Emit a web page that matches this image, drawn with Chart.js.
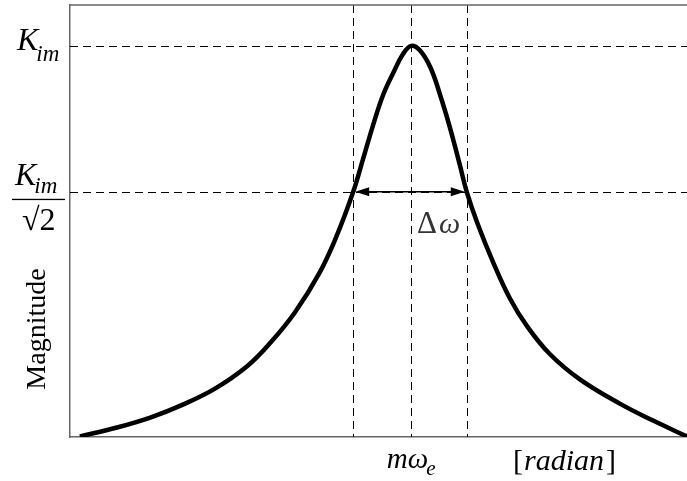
<!DOCTYPE html>
<html>
<head>
<meta charset="utf-8">
<title>Resonance bandwidth</title>
<script src="https://cdn.jsdelivr.net/npm/chart.js@4.4.1/dist/chart.umd.min.js"></script>
<style>
    body {
        margin: 0;
        background: #ffffff;
    }
    #wrap {
        width: 687px;
        height: 481px;
    }
</style>
</head>
<body>
<div id="wrap"><canvas id="magChart" width="687" height="481"></canvas></div>
<script>
// frequency axis (arbitrary units) and normalized magnitude of the response
const freq = [1.6, 7.6, 13.0, 18.3, 23.5, 28.7, 32.4, 36.5, 40.5, 43.3, 45.9, 47.5, 49.1, 50.7, 52.4, 54.0,
              55.3, 56.7, 58.4, 60.0, 61.6, 63.2, 64.3, 66.0, 68.6, 71.3, 74.1, 77.8, 82.7, 89.1, 94.5, 100];
const magnitude = [0.216, 0.234, 0.254, 0.280, 0.312, 0.357, 0.403, 0.466, 0.546, 0.621, 0.707, 0.773, 0.840, 0.900, 0.946, 0.984,
                   1.000, 0.991, 0.957, 0.901, 0.835, 0.760, 0.707, 0.645, 0.565, 0.493, 0.437, 0.381, 0.330, 0.282, 0.248, 0.216];

// peak value and the half-power level
const kIm = 1;
const halfPower = kIm / Math.SQRT2;
const yTicks = [kIm, halfPower];

// resonance and the two half-power frequencies
const resonance = 55.3;
const bandLow = 45.9;
const bandHigh = 64.3;
const xTicks = [bandLow, resonance, bandHigh];

const serif = '"Liberation Serif", "Times New Roman", serif';

function subText(ctx, base, sub, x, y, size, subSize, subDrop) {
    // base letter followed by a lowered subscript, both italic
    ctx.font = 'italic ' + size + 'px ' + serif;
    ctx.fillText(base, x, y);
    const w = ctx.measureText(base).width;
    ctx.font = 'italic ' + subSize + 'px ' + serif;
    ctx.fillText(sub, x + w - 2, y + subDrop);
    return w - 2 + ctx.measureText(sub).width;
}

const guides = {
    id: 'guides',
    beforeDatasetsDraw(chart) {
        const { ctx, chartArea, scales } = chart;
        ctx.save();
        ctx.strokeStyle = '#000';
        ctx.lineWidth = 1;
        ctx.setLineDash([8, 5]);
        yTicks.forEach(v => {
            const y = Math.round(scales.y.getPixelForValue(v)) + 0.5;
            ctx.beginPath();
            ctx.moveTo(chartArea.left, y);
            ctx.lineTo(chartArea.right, y);
            ctx.stroke();
        });
        xTicks.forEach(v => {
            const x = Math.round(scales.x.getPixelForValue(v)) + 0.5;
            ctx.beginPath();
            ctx.moveTo(x, chartArea.top);
            ctx.lineTo(x, chartArea.bottom);
            ctx.stroke();
        });
        ctx.setLineDash([]);

        // top frame line
        ctx.strokeStyle = '#666';
        ctx.lineWidth = 1.5;
        ctx.beginPath();
        ctx.moveTo(chartArea.left, chartArea.top);
        ctx.lineTo(chartArea.right, chartArea.top);
        ctx.stroke();

        // bandwidth arrow between the half-power points
        const yA = scales.y.getPixelForValue(halfPower);
        const x1 = scales.x.getPixelForValue(bandLow) + 2;
        const x2 = scales.x.getPixelForValue(bandHigh) - 2;
        ctx.strokeStyle = '#000';
        ctx.fillStyle = '#000';
        ctx.lineWidth = 1.5;
        ctx.beginPath();
        ctx.moveTo(x1 + 10, yA);
        ctx.lineTo(x2 - 10, yA);
        ctx.stroke();
        ctx.beginPath();
        ctx.moveTo(x1, yA);
        ctx.lineTo(x1 + 14, yA - 4.5);
        ctx.lineTo(x1 + 14, yA + 4.5);
        ctx.closePath();
        ctx.fill();
        ctx.beginPath();
        ctx.moveTo(x2, yA);
        ctx.lineTo(x2 - 14, yA - 4.5);
        ctx.lineTo(x2 - 14, yA + 4.5);
        ctx.closePath();
        ctx.fill();
        ctx.restore();
    },
    afterDraw(chart) {
        const { ctx, scales } = chart;
        ctx.save();
        ctx.fillStyle = '#000';
        ctx.textAlign = 'left';
        ctx.textBaseline = 'alphabetic';

        // K_im at the peak level
        const yK = scales.y.getPixelForValue(kIm);
        subText(ctx, 'K', 'im', 17, yK + 4, 32, 23, 11);

        // K_im / sqrt(2) at the half-power level
        const yH = scales.y.getPixelForValue(halfPower);
        subText(ctx, 'K', 'im', 15, yH - 7, 32, 23, 8);
        ctx.fillRect(12, yH + 7, 53, 1.3);
        ctx.font = '32px ' + serif;
        ctx.fillText('\u221A2', 22, yH + 38);

        // vertical axis title
        ctx.save();
        ctx.translate(45, 329);
        ctx.rotate(-Math.PI / 2);
        ctx.textAlign = 'center';
        ctx.font = '28px ' + serif;
        ctx.fillText('Magnitude', 0, 0);
        ctx.restore();

        // resonance label under its guide
        const xR = scales.x.getPixelForValue(resonance);
        ctx.font = 'italic 29px ' + serif;
        const wm = ctx.measureText('m\u03C9').width;
        ctx.font = 'italic 21px ' + serif;
        const we = ctx.measureText('e').width;
        subText(ctx, 'm\u03C9', 'e', xR - (wm + we - 2) / 2, 468, 29, 21, 7);

        // axis unit
        ctx.font = '30px ' + serif;
        ctx.fillText('[', 513, 470);
        ctx.font = 'italic 30px ' + serif;
        ctx.fillText('radian', 524, 470);
        const wr = ctx.measureText('radian').width;
        ctx.font = '30px ' + serif;
        ctx.fillText(']', 524 + wr + 2, 470);

        // bandwidth label
        ctx.fillStyle = '#333';
        ctx.font = '31px ' + serif;
        ctx.fillText('\u0394', 417, yH + 41);
        ctx.font = 'italic 30px ' + serif;
        ctx.fillText('\u03C9', 439, yH + 41);
        ctx.restore();
    }
};

new Chart(document.getElementById('magChart'), {
    type: 'line',
    data: {
        datasets: [{
            data: freq.map((f, i) => ({ x: f, y: magnitude[i] })),
            borderColor: '#000',
            borderWidth: 4.5,
            pointRadius: 0,
            fill: false,
            tension: 0.4
        }]
    },
    options: {
        responsive: false,
        animation: false,
        events: [],
        layout: {
            padding: { top: 5, right: 0, left: 0, bottom: 0 }
        },
        plugins: {
            legend: { display: false },
            tooltip: { enabled: false }
        },
        scales: {
            x: {
                type: 'linear',
                min: 0,
                max: 100,
                grid: { display: false },
                border: { display: true, color: '#666', width: 1.5 },
                ticks: { display: false },
                afterFit(scale) { scale.height = 44; }
            },
            y: {
                min: 0.215,
                max: 1.082,
                grid: { display: false },
                border: { display: true, color: '#666', width: 1.5 },
                ticks: { display: false },
                afterFit(scale) { scale.width = 70; }
            }
        }
    },
    plugins: [guides]
});
</script>
</body>
</html>
